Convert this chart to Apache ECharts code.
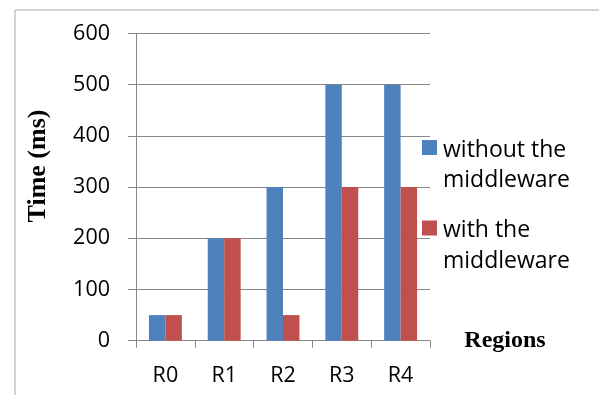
<!DOCTYPE html>
<html>
<head>
<meta charset="utf-8">
<script src="https://cdn.jsdelivr.net/npm/echarts@6/dist/echarts.min.js"></script>
<style>
  html, body { margin: 0; padding: 0; background: #fff; }
  #chart { width: 599px; height: 395px; }
</style>
</head>
<body>
<div id="chart"></div>
<script>
// Response time per region, with and without the middleware
var regions = ['R0', 'R1', 'R2', 'R3', 'R4'];
var withoutMiddleware = [50, 200, 300, 500, 500];
var withMiddleware = [50, 200, 50, 300, 300];
var seriesNames = ['without the\nmiddleware', 'with the\nmiddleware'];
var seriesColors = ['#4F81BD', '#C0504D'];
var yTicks = { min: 0, max: 600, step: 100 };

var chart = echarts.init(document.getElementById('chart'), null, { renderer: 'canvas' });

var labelFont = '"Open Sans", sans-serif';
var gridColor = '#878787';

// Legend entries: a colour square beside a two-line label
var legendGraphics = [];
var legendTops = [140, 220.5];
seriesNames.forEach(function (name, i) {
  legendGraphics.push({
    type: 'rect',
    left: 422, top: legendTops[i],
    shape: { width: 15, height: 15 },
    style: { fill: seriesColors[i] }
  });
  legendGraphics.push({
    type: 'text',
    left: 443, top: legendTops[i] - 5,
    style: {
      text: name,
      font: '23px ' + labelFont,
      fill: '#000',
      lineHeight: 30.6
    }
  });
});

chart.setOption({
  animation: false,
  backgroundColor: '#fff',
  grid: { left: 136, right: 169, top: 33.5, bottom: 54.3, containLabel: false },
  xAxis: {
    type: 'category',
    data: regions,
    axisLine: { lineStyle: { color: gridColor, width: 1 } },
    axisTick: { show: true, length: 7, lineStyle: { color: gridColor } },
    axisLabel: { color: '#000', fontFamily: labelFont, fontSize: 21.5, margin: 24 }
  },
  yAxis: {
    type: 'value',
    min: yTicks.min, max: yTicks.max, interval: yTicks.step,
    axisLine: { show: true, lineStyle: { color: gridColor, width: 1 } },
    axisTick: { show: true, length: 8, lineStyle: { color: gridColor } },
    splitLine: { lineStyle: { color: gridColor, width: 1 } },
    axisLabel: { color: '#000', fontFamily: labelFont, fontSize: 21.5, margin: 26 }
  },
  series: [
    {
      name: seriesNames[0], type: 'bar', data: withoutMiddleware,
      itemStyle: { color: seriesColors[0] },
      barGap: '0%', barCategoryGap: '44%'
    },
    {
      name: seriesNames[1], type: 'bar', data: withMiddleware,
      itemStyle: { color: seriesColors[1] },
      barGap: '0%', barCategoryGap: '44%'
    }
  ],
  graphic: [
    {
      type: 'rect', left: 12.5, top: 7.5, silent: true,
      shape: { width: 585, height: 420 },
      style: { fill: 'none', stroke: '#A6A6A6', lineWidth: 1 }
    },
    {
      type: 'text', x: 38, y: 166, rotation: Math.PI / 2,
      style: {
        text: 'Time (ms)',
        font: 'bold 26px "Liberation Serif", serif',
        fill: '#000', align: 'center', verticalAlign: 'middle'
      }
    },
    {
      type: 'text', x: 505, y: 341,
      style: {
        text: 'Regions',
        font: 'bold 24px "Liberation Serif", serif',
        fill: '#000', align: 'center', verticalAlign: 'middle'
      }
    }
  ].concat(legendGraphics)
});
</script>
</body>
</html>
